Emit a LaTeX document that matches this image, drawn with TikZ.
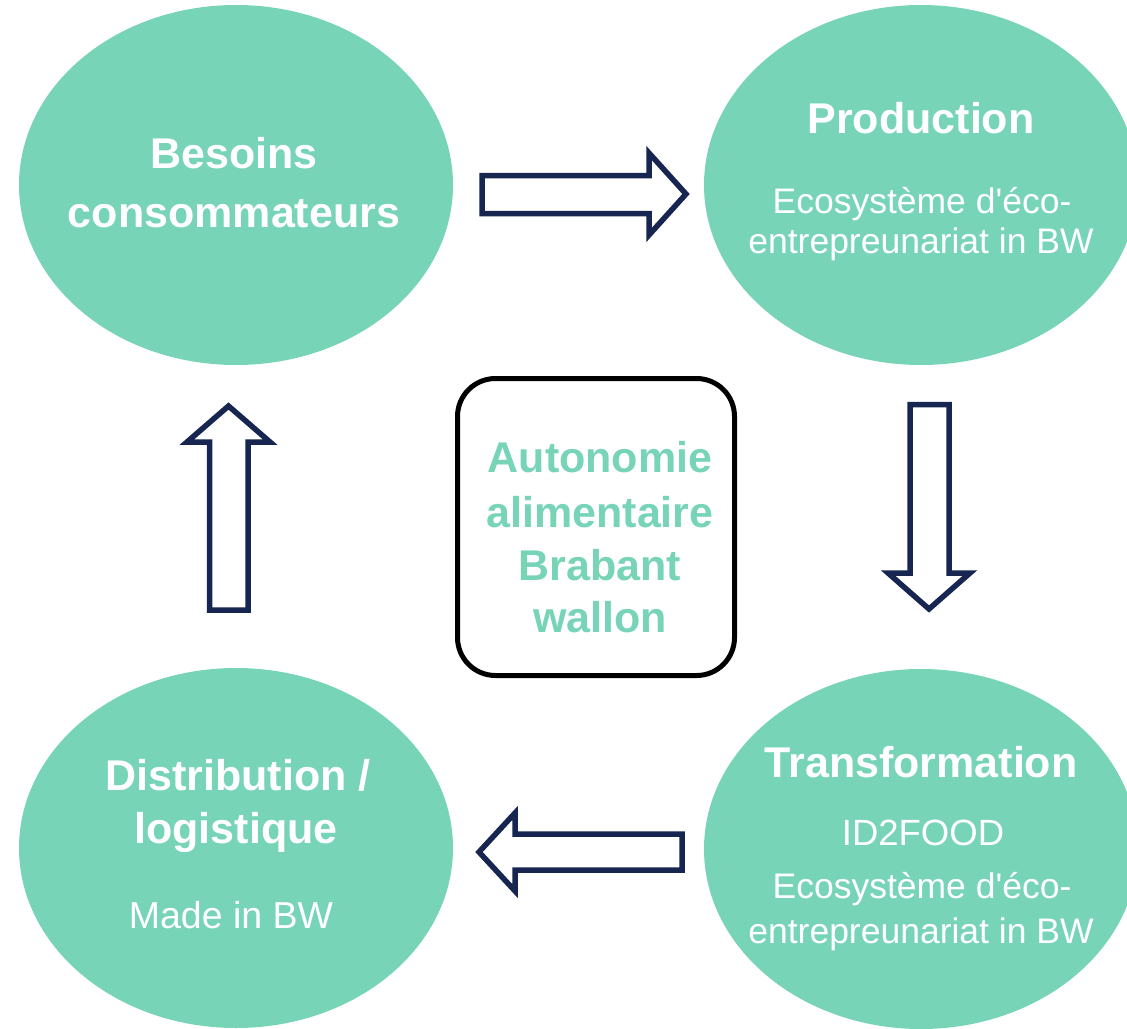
\documentclass[tikz,border=0pt]{standalone}
\usepackage{fontspec}
\setmainfont{Liberation Sans}[Ligatures=TeXOff]
\usetikzlibrary{shapes.geometric}
\definecolor{teal1}{RGB}{119,212,183}
\definecolor{navy1}{RGB}{22,38,80}
\begin{document}
\begin{tikzpicture}[x=1pt,y=-1pt,
  bub/.style={ellipse, fill=teal1, draw=none, minimum width=434pt, minimum height=360pt, inner sep=0pt},
  boldtxt/.style={font=\fontsize{43}{50}\selectfont\bfseries, text=white, anchor=base, inner sep=0pt},
  regtxt/.style={font=\fontsize{35.5}{40}\selectfont, text=white, anchor=base, inner sep=0pt},
  hubtxt/.style={font=\fontsize{43}{50}\selectfont\bfseries, text=teal1, anchor=base, inner sep=0pt},
  blockarrow/.style={draw=navy1, line width=5.5pt, fill=white, line join=miter},
  hubbox/.style={draw=black, line width=5pt, rounded corners=38pt, fill=white, minimum width=277pt, minimum height=297pt, inner sep=0pt}]
\useasboundingbox (0,0) rectangle (1127,1028);
\clip (0,0) rectangle (1127,1028);

% bubbles
\node[bub] (besoins) at (236,185) {};
\node[bub] (prod) at (921,185) {};
\node[bub] (distr) at (236,848) {};
\node[bub] (transf) at (921,849) {};

% center box
\node[hubbox] (hub) at (596,527) {};

% texts
\node[boldtxt] (t1a) at (234,168) {Besoins};
\node[boldtxt] (t1b) at (234,227) {consommateurs};

\node[boldtxt] (t2a) at (921,133) {Production};
\node[regtxt] (t2b) at (922,213) {Ecosystème d'éco-};
\node[regtxt] (t2c) at (921,253) {entrepreunariat in BW};

\node[boldtxt] (t3a) at (921,777) {Transformation};
\node[regtxt, font=\fontsize{36.5}{40}\selectfont] (t3b) at (923,845) {ID2FOOD};
\node[regtxt] (t3c) at (922,898) {Ecosystème d'éco-};
\node[regtxt] (t3d) at (921,943) {entrepreunariat in BW};

\node[boldtxt] (t4a) at (238,790) {Distribution /};
\node[boldtxt] (t4b) at (236,843) {logistique};
\node[regtxt, font=\fontsize{37.5}{40}\selectfont] (t4c) at (231,928) {Made in BW};

\node[hubtxt] (h1) at (600,472) {Autonomie};
\node[hubtxt] (h2) at (600,527) {alimentaire};
\node[hubtxt] (h3) at (600,580) {Brabant};
\node[hubtxt] (h4) at (600,632) {wallon};

% block arrows
\draw[blockarrow] (482,175.5) -- (649,175.5) -- (649,153) -- (686,194) -- (649,235) -- (649,213.5) -- (482,213.5) -- cycle;
\draw[blockarrow] (910,404.5) -- (949,404.5) -- (949,573) -- (970,573) -- (929,609) -- (888,573) -- (910,573) -- cycle;
\draw[blockarrow] (682,834) -- (515,834) -- (515,813) -- (479,852) -- (515,891) -- (515,870) -- (682,870) -- cycle;
\draw[blockarrow] (209.5,610) -- (209.5,442) -- (187,442) -- (228.5,406) -- (270,442) -- (248,442) -- (248,610) -- cycle;
\end{tikzpicture}
\end{document}
